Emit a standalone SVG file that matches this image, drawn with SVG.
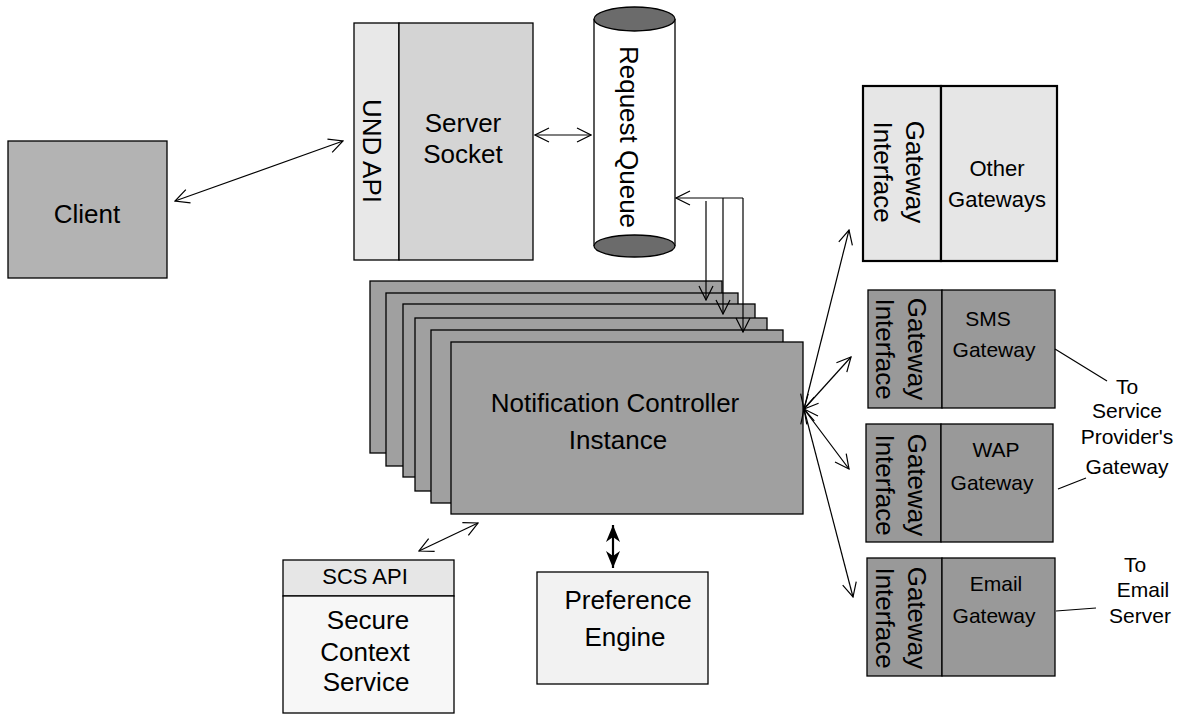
<svg xmlns="http://www.w3.org/2000/svg" width="1178" height="714" viewBox="0 0 1178 714">
<style>
text{font-family:"Liberation Sans",Arial,sans-serif;fill:#000;text-anchor:middle}
.big{font-size:26px}
.mid{font-size:22px}
.sm{font-size:21px}
.box{stroke:#000;stroke-width:1.3}
.thick{stroke:#000;stroke-width:2.2}
.ln{stroke:#000;stroke-width:1.2;fill:none}
.arr{stroke:#000;stroke-width:1.2;fill:none;marker-end:url(#ah);marker-start:url(#ah)}
.arr1{stroke:#000;stroke-width:1.2;fill:none;marker-end:url(#ah)}
</style>
<defs>
<marker id="ah" viewBox="0 0 16 16" markerUnits="userSpaceOnUse" markerWidth="16" markerHeight="16" refX="15" refY="8" orient="auto-start-reverse">
<path d="M1,1 L15,8 L1,15" fill="none" stroke="#000" stroke-width="1.2"/>
</marker>
<marker id="fh" viewBox="0 0 18 16" markerUnits="userSpaceOnUse" markerWidth="18" markerHeight="16" refX="17" refY="8" orient="auto-start-reverse">
<path d="M0,1 L17,8 L0,15 L5,8 Z" fill="#000"/>
</marker>
</defs>

<g id="client">
<rect class="box" x="8" y="141" width="159" height="137" fill="#b3b3b3"/>
<text class="big" x="87" y="223">Client</text>
</g>

<g id="server-socket">
<rect class="box" x="354" y="23" width="45" height="237" fill="#e8e8e8"/>
<rect class="box" x="399" y="23" width="134" height="237" fill="#d4d4d4"/>
<text class="big" transform="translate(372,151) rotate(90)" x="0" y="9">UND API</text>
<text class="big" x="463" y="132">Server</text>
<text class="big" x="463" y="163">Socket</text>
</g>

<g id="request-queue">
<rect x="594" y="19" width="81" height="227" fill="#fff" stroke="none"/>
<line class="box" x1="594" y1="19" x2="594" y2="246"/>
<line class="box" x1="675" y1="19" x2="675" y2="246"/>
<ellipse class="box" cx="634.5" cy="19" rx="40.5" ry="12" fill="#6b6b6b"/>
<ellipse class="box" cx="634.5" cy="246" rx="40.5" ry="11" fill="#6b6b6b"/>
<text class="big" transform="translate(629,137) rotate(90)" x="0" y="9">Request Queue</text>
</g>

<g id="notification-controller">
<rect class="box" x="370" y="281" width="352" height="172" fill="#a0a0a0"/>
<rect class="box" x="386" y="293" width="352" height="173" fill="#a0a0a0"/>
<rect class="box" x="403" y="304" width="352" height="173" fill="#a0a0a0"/>
<rect class="box" x="415" y="318" width="352" height="173" fill="#a0a0a0"/>
<rect class="box" x="431" y="330" width="352" height="173" fill="#a0a0a0"/>
<rect class="box" x="451" y="342" width="352" height="172" fill="#a0a0a0"/>
<text class="big" x="615" y="412">Notification Controller</text>
<text class="big" x="618" y="449">Instance</text>
</g>

<g id="other-gateways">
<rect class="thick" x="863" y="86" width="78" height="175" fill="#e6e6e6"/>
<rect class="thick" x="941" y="86" width="116" height="175" fill="#e6e6e6"/>
<text class="big" transform="translate(899,172) rotate(90)"><tspan x="0" y="-7">Gateway</tspan><tspan x="0" y="25">Interface</tspan></text>
<text class="mid" x="997" y="176">Other</text>
<text class="mid" x="997" y="207">Gateways</text>
</g>

<g id="sms-gateway">
<rect class="box" x="868" y="290" width="74" height="118" fill="#999"/>
<rect class="box" x="942" y="290" width="113" height="118" fill="#999"/>
<text class="big" transform="translate(901,349) rotate(90)"><tspan x="0" y="-7">Gateway</tspan><tspan x="0" y="25">Interface</tspan></text>
<text class="sm" x="988" y="326">SMS</text>
<text class="sm" x="994" y="357">Gateway</text>
</g>

<g id="wap-gateway">
<rect class="box" x="866" y="424" width="75" height="118" fill="#999"/>
<rect class="box" x="941" y="424" width="112" height="118" fill="#999"/>
<text class="big" transform="translate(901,485) rotate(90)"><tspan x="0" y="-7">Gateway</tspan><tspan x="0" y="25">Interface</tspan></text>
<text class="sm" x="996" y="457">WAP</text>
<text class="sm" x="992" y="490">Gateway</text>
</g>

<g id="email-gateway">
<rect class="box" x="867" y="558" width="75" height="118" fill="#999"/>
<rect class="box" x="942" y="558" width="113" height="118" fill="#999"/>
<text class="big" transform="translate(901,618) rotate(90)"><tspan x="0" y="-7">Gateway</tspan><tspan x="0" y="25">Interface</tspan></text>
<text class="sm" x="996" y="591">Email</text>
<text class="sm" x="994" y="623">Gateway</text>
</g>

<g id="service-provider-label">
<text class="sm" x="1127" y="394">To</text>
<text class="sm" x="1127" y="418">Service</text>
<text class="sm" x="1127" y="444">Provider's</text>
<text class="sm" x="1127" y="474">Gateway</text>
</g>

<g id="email-server-label">
<text class="sm" x="1135" y="572">To</text>
<text class="sm" x="1143" y="597">Email</text>
<text class="sm" x="1140" y="623">Server</text>
</g>

<g id="scs">
<rect class="box" x="283" y="560" width="171" height="36" fill="#e6e6e6"/>
<rect class="box" x="283" y="596" width="171" height="117" fill="#f7f7f7"/>
<text class="mid" x="365" y="584">SCS API</text>
<text class="big" x="368" y="629">Secure</text>
<text class="big" x="365" y="661">Context</text>
<text class="big" x="366" y="691">Service</text>
</g>

<g id="preference-engine">
<rect class="box" x="537" y="572" width="171" height="112" fill="#f2f2f2"/>
<text class="big" x="628" y="609">Preference</text>
<text class="big" x="625" y="646">Engine</text>
</g>

<g id="connectors">
<line class="arr" x1="175" y1="201" x2="343" y2="141"/>
<line class="arr" x1="535" y1="135" x2="591" y2="135"/>
<line class="arr1" x1="743" y1="198" x2="676" y2="198"/>
<line class="arr1" x1="706" y1="201" x2="706" y2="300"/>
<line class="arr1" x1="723" y1="198" x2="723" y2="314"/>
<line class="arr1" x1="743" y1="198" x2="743" y2="332"/>
<line class="arr" x1="804" y1="409" x2="849" y2="230"/>
<line class="arr" x1="804" y1="409" x2="851" y2="357"/>
<line class="arr" x1="804" y1="409" x2="849" y2="469"/>
<line class="arr" x1="804" y1="409" x2="853" y2="597"/>
<line class="arr" x1="419" y1="551" x2="478" y2="523"/>
<line x1="613" y1="525" x2="613" y2="568" stroke="#000" stroke-width="2.2" marker-start="url(#fh)" marker-end="url(#fh)"/>
<line class="ln" x1="1055" y1="349" x2="1107" y2="381"/>
<line class="ln" x1="1058" y1="489" x2="1086" y2="478"/>
<line class="ln" x1="1056" y1="611" x2="1096" y2="608"/>
</g>
</svg>
